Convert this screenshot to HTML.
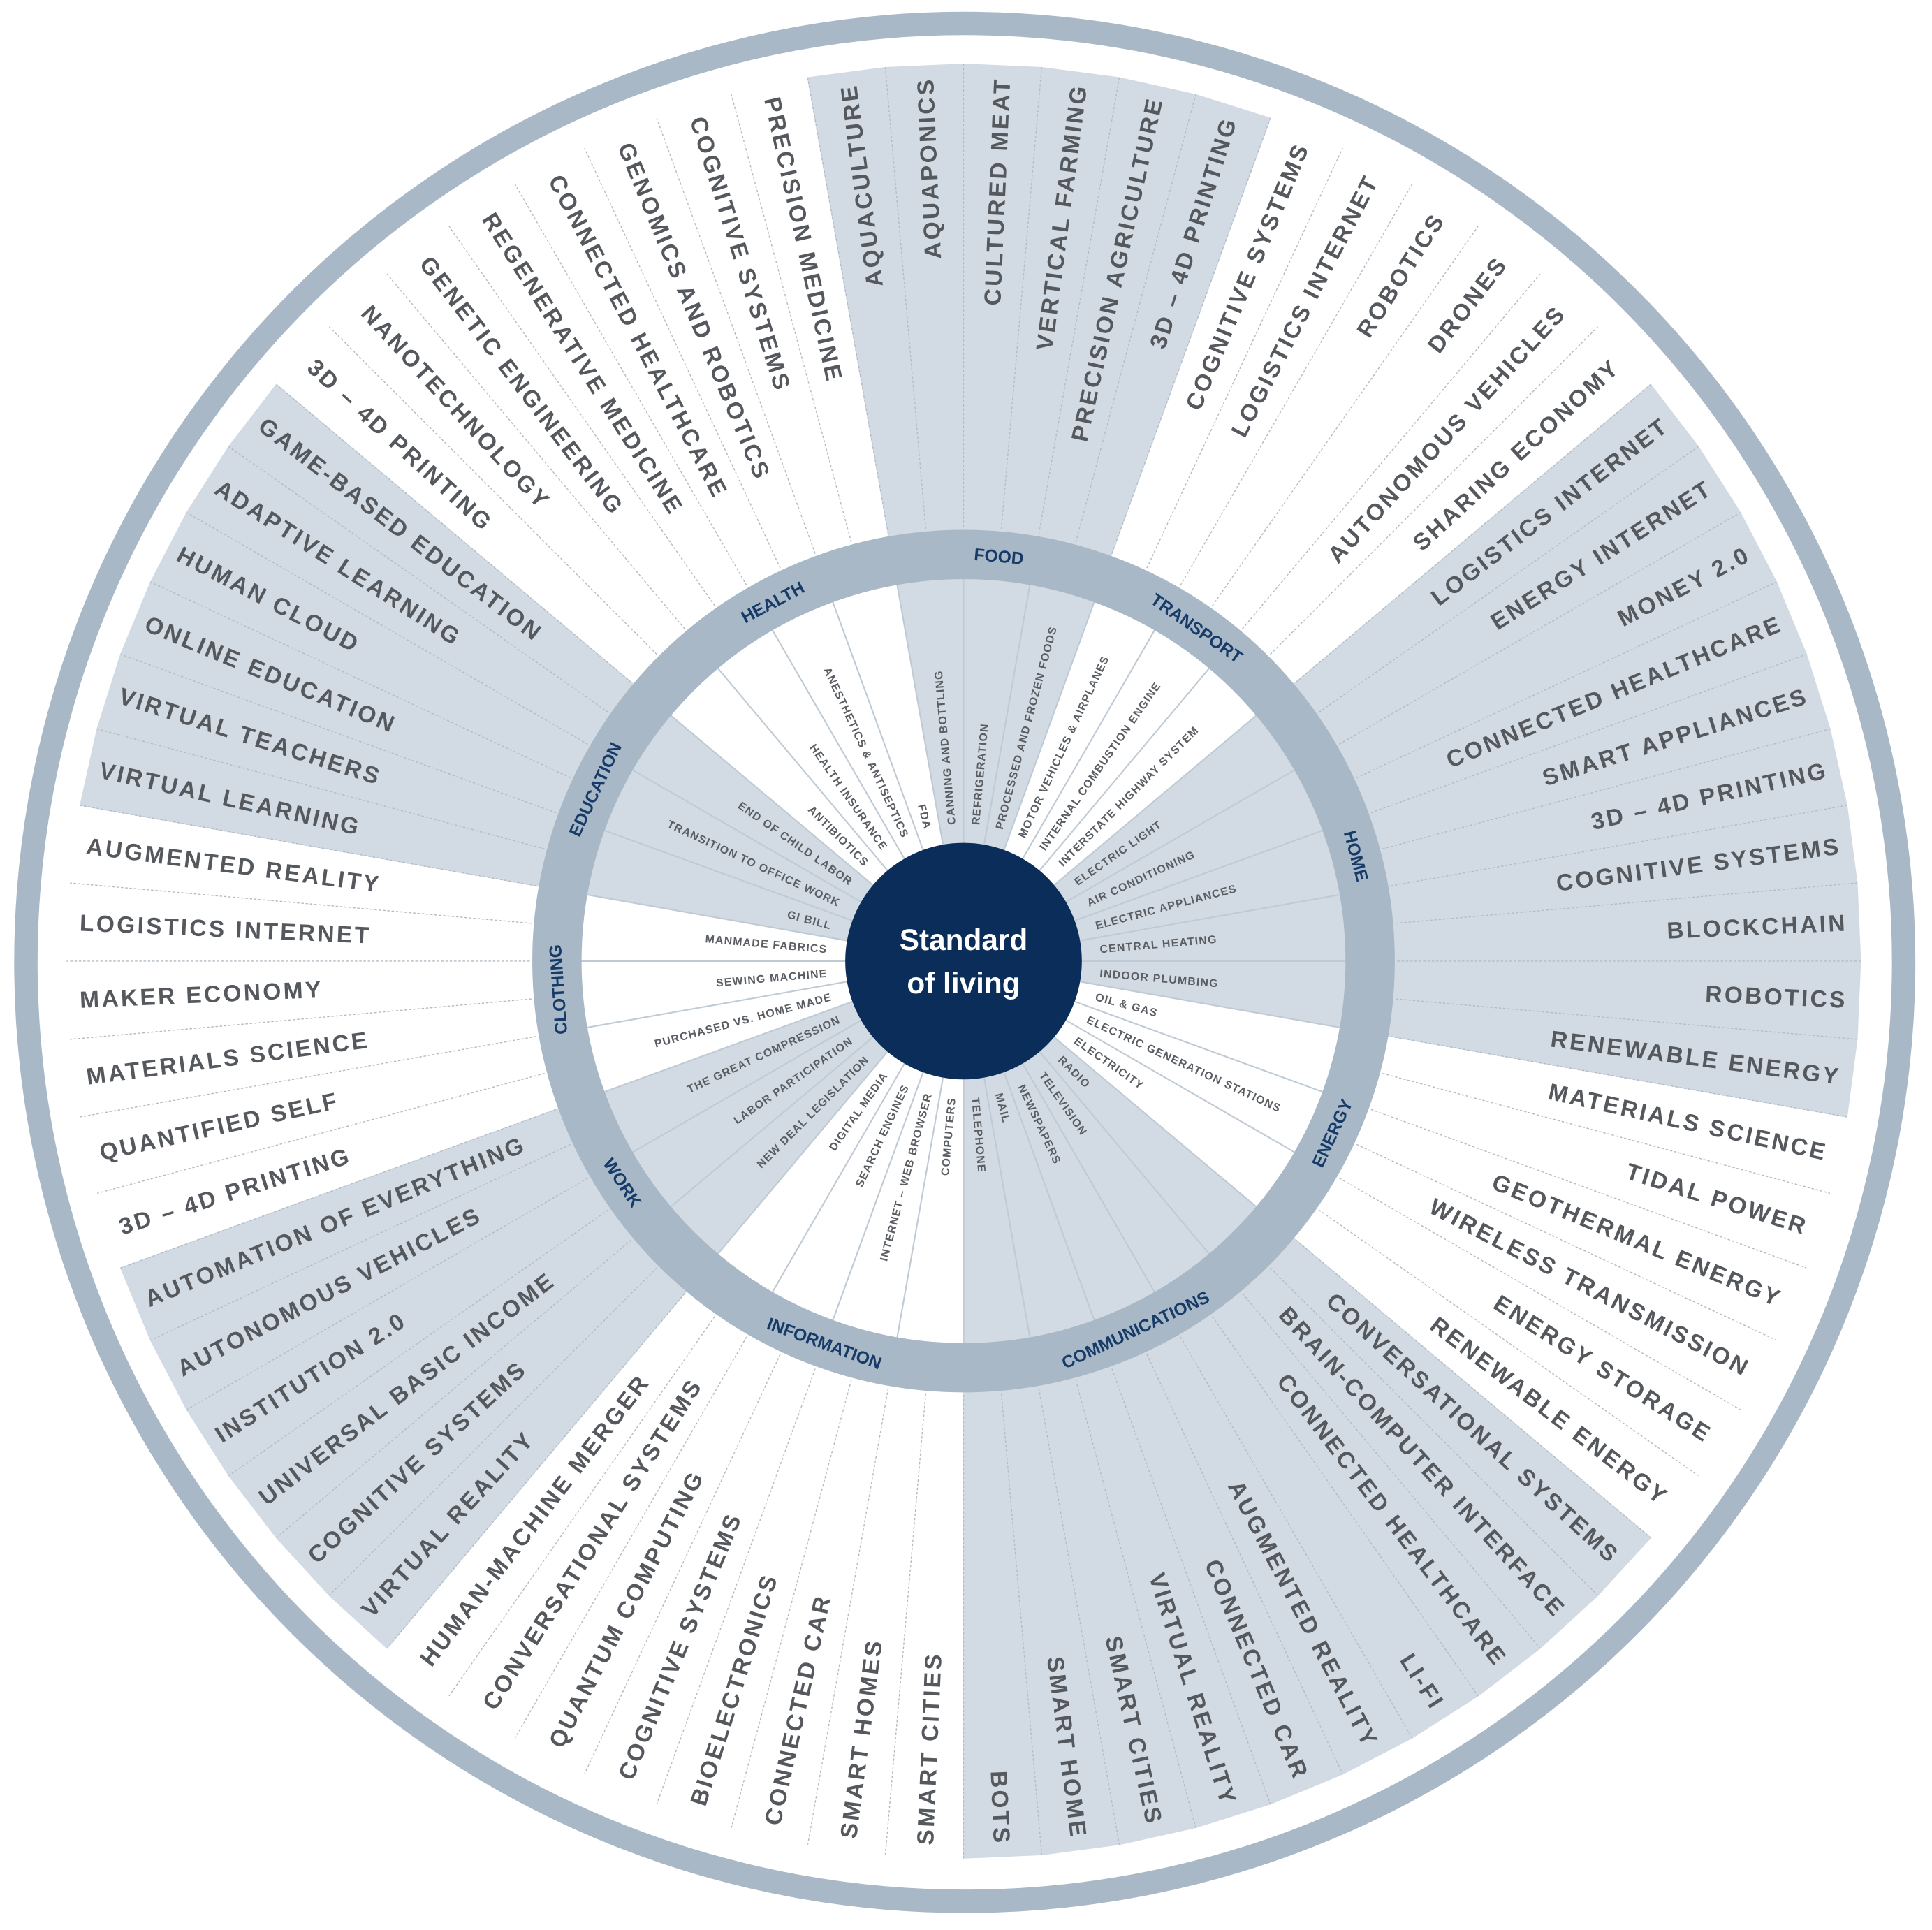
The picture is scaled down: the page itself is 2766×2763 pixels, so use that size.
<!DOCTYPE html>
<html><head><meta charset="utf-8"><style>
html,body{margin:0;padding:0;background:#fff}
svg{display:block}
.o{font-family:"Liberation Sans",sans-serif;font-weight:bold;font-size:19px;letter-spacing:1.9px;fill:#55595e}
.i{font-family:"Liberation Sans",sans-serif;font-weight:bold;font-size:9px;letter-spacing:0.7px;fill:#5a5e63}
.c{font-family:"Liberation Sans",sans-serif;font-weight:bold;font-size:14px;fill:#173b68;text-anchor:middle}
.sh{fill:#d2dbe3;stroke:#d2dbe3;stroke-width:0.8}
.ol{stroke:#b3bcc5;stroke-width:0.8;stroke-dasharray:2 1.5}
.il{stroke:#bfcad4;stroke-width:1.2}
</style></head><body>
<svg width="2766" height="2763" viewBox="0 0 1568 1566.3" preserveAspectRatio="none" xmlns="http://www.w3.org/2000/svg">
<rect x="0" y="0" width="1568" height="1567" fill="#fff"/>
<g>
<polygon class="sh" points="782,780 750.2,52.7 813.8,52.7" transform="rotate(-7.5 782 780)"/>
<polygon class="sh" points="782,780 750.2,52.7 813.8,52.7" transform="rotate(-2.5 782 780)"/>
<polygon class="sh" points="782,780 750.2,52.7 813.8,52.7" transform="rotate(2.5 782 780)"/>
<polygon class="sh" points="782,780 750.2,52.7 813.8,52.7" transform="rotate(7.5 782 780)"/>
<polygon class="sh" points="782,780 750.2,52.7 813.8,52.7" transform="rotate(12.5 782 780)"/>
<polygon class="sh" points="782,780 750.2,52.7 813.8,52.7" transform="rotate(17.5 782 780)"/>
<polygon class="sh" points="782,780 750.2,52.7 813.8,52.7" transform="rotate(52.5 782 780)"/>
<polygon class="sh" points="782,780 750.2,52.7 813.8,52.7" transform="rotate(57.5 782 780)"/>
<polygon class="sh" points="782,780 750.2,52.7 813.8,52.7" transform="rotate(62.5 782 780)"/>
<polygon class="sh" points="782,780 750.2,52.7 813.8,52.7" transform="rotate(67.5 782 780)"/>
<polygon class="sh" points="782,780 750.2,52.7 813.8,52.7" transform="rotate(72.5 782 780)"/>
<polygon class="sh" points="782,780 750.2,52.7 813.8,52.7" transform="rotate(77.5 782 780)"/>
<polygon class="sh" points="782,780 750.2,52.7 813.8,52.7" transform="rotate(82.5 782 780)"/>
<polygon class="sh" points="782,780 750.2,52.7 813.8,52.7" transform="rotate(87.5 782 780)"/>
<polygon class="sh" points="782,780 750.2,52.7 813.8,52.7" transform="rotate(92.5 782 780)"/>
<polygon class="sh" points="782,780 750.2,52.7 813.8,52.7" transform="rotate(97.5 782 780)"/>
<polygon class="sh" points="782,780 750.2,52.7 813.8,52.7" transform="rotate(132.5 782 780)"/>
<polygon class="sh" points="782,780 750.2,52.7 813.8,52.7" transform="rotate(137.5 782 780)"/>
<polygon class="sh" points="782,780 750.2,52.7 813.8,52.7" transform="rotate(142.5 782 780)"/>
<polygon class="sh" points="782,780 750.2,52.7 813.8,52.7" transform="rotate(147.5 782 780)"/>
<polygon class="sh" points="782,780 750.2,52.7 813.8,52.7" transform="rotate(152.5 782 780)"/>
<polygon class="sh" points="782,780 750.2,52.7 813.8,52.7" transform="rotate(157.5 782 780)"/>
<polygon class="sh" points="782,780 750.2,52.7 813.8,52.7" transform="rotate(162.5 782 780)"/>
<polygon class="sh" points="782,780 750.2,52.7 813.8,52.7" transform="rotate(167.5 782 780)"/>
<polygon class="sh" points="782,780 750.2,52.7 813.8,52.7" transform="rotate(172.5 782 780)"/>
<polygon class="sh" points="782,780 750.2,52.7 813.8,52.7" transform="rotate(177.5 782 780)"/>
<polygon class="sh" points="782,780 750.2,52.7 813.8,52.7" transform="rotate(222.5 782 780)"/>
<polygon class="sh" points="782,780 750.2,52.7 813.8,52.7" transform="rotate(227.5 782 780)"/>
<polygon class="sh" points="782,780 750.2,52.7 813.8,52.7" transform="rotate(232.5 782 780)"/>
<polygon class="sh" points="782,780 750.2,52.7 813.8,52.7" transform="rotate(237.5 782 780)"/>
<polygon class="sh" points="782,780 750.2,52.7 813.8,52.7" transform="rotate(242.5 782 780)"/>
<polygon class="sh" points="782,780 750.2,52.7 813.8,52.7" transform="rotate(247.5 782 780)"/>
<polygon class="sh" points="782,780 750.2,52.7 813.8,52.7" transform="rotate(282.5 782 780)"/>
<polygon class="sh" points="782,780 750.2,52.7 813.8,52.7" transform="rotate(287.5 782 780)"/>
<polygon class="sh" points="782,780 750.2,52.7 813.8,52.7" transform="rotate(292.5 782 780)"/>
<polygon class="sh" points="782,780 750.2,52.7 813.8,52.7" transform="rotate(297.5 782 780)"/>
<polygon class="sh" points="782,780 750.2,52.7 813.8,52.7" transform="rotate(302.5 782 780)"/>
<polygon class="sh" points="782,780 750.2,52.7 813.8,52.7" transform="rotate(307.5 782 780)"/>
</g>
<g class="ol">
<line x1="782" y1="428" x2="782" y2="52" transform="rotate(0 782 780)"/><line x1="782" y1="428" x2="782" y2="52" transform="rotate(5 782 780)"/><line x1="782" y1="428" x2="782" y2="52" transform="rotate(10 782 780)"/><line x1="782" y1="428" x2="782" y2="52" transform="rotate(15 782 780)"/><line x1="782" y1="428" x2="782" y2="52" transform="rotate(20 782 780)"/><line x1="782" y1="428" x2="782" y2="52" transform="rotate(25 782 780)"/><line x1="782" y1="428" x2="782" y2="52" transform="rotate(30 782 780)"/><line x1="782" y1="428" x2="782" y2="52" transform="rotate(35 782 780)"/><line x1="782" y1="428" x2="782" y2="52" transform="rotate(40 782 780)"/><line x1="782" y1="428" x2="782" y2="52" transform="rotate(45 782 780)"/><line x1="782" y1="428" x2="782" y2="52" transform="rotate(50 782 780)"/><line x1="782" y1="428" x2="782" y2="52" transform="rotate(55 782 780)"/><line x1="782" y1="428" x2="782" y2="52" transform="rotate(60 782 780)"/><line x1="782" y1="428" x2="782" y2="52" transform="rotate(65 782 780)"/><line x1="782" y1="428" x2="782" y2="52" transform="rotate(70 782 780)"/><line x1="782" y1="428" x2="782" y2="52" transform="rotate(75 782 780)"/><line x1="782" y1="428" x2="782" y2="52" transform="rotate(80 782 780)"/><line x1="782" y1="428" x2="782" y2="52" transform="rotate(85 782 780)"/><line x1="782" y1="428" x2="782" y2="52" transform="rotate(90 782 780)"/><line x1="782" y1="428" x2="782" y2="52" transform="rotate(95 782 780)"/><line x1="782" y1="428" x2="782" y2="52" transform="rotate(100 782 780)"/><line x1="782" y1="428" x2="782" y2="52" transform="rotate(105 782 780)"/><line x1="782" y1="428" x2="782" y2="52" transform="rotate(110 782 780)"/><line x1="782" y1="428" x2="782" y2="52" transform="rotate(115 782 780)"/><line x1="782" y1="428" x2="782" y2="52" transform="rotate(120 782 780)"/><line x1="782" y1="428" x2="782" y2="52" transform="rotate(125 782 780)"/><line x1="782" y1="428" x2="782" y2="52" transform="rotate(130 782 780)"/><line x1="782" y1="428" x2="782" y2="52" transform="rotate(135 782 780)"/><line x1="782" y1="428" x2="782" y2="52" transform="rotate(140 782 780)"/><line x1="782" y1="428" x2="782" y2="52" transform="rotate(145 782 780)"/><line x1="782" y1="428" x2="782" y2="52" transform="rotate(150 782 780)"/><line x1="782" y1="428" x2="782" y2="52" transform="rotate(155 782 780)"/><line x1="782" y1="428" x2="782" y2="52" transform="rotate(160 782 780)"/><line x1="782" y1="428" x2="782" y2="52" transform="rotate(165 782 780)"/><line x1="782" y1="428" x2="782" y2="52" transform="rotate(170 782 780)"/><line x1="782" y1="428" x2="782" y2="52" transform="rotate(175 782 780)"/><line x1="782" y1="428" x2="782" y2="52" transform="rotate(180 782 780)"/><line x1="782" y1="428" x2="782" y2="52" transform="rotate(185 782 780)"/><line x1="782" y1="428" x2="782" y2="52" transform="rotate(190 782 780)"/><line x1="782" y1="428" x2="782" y2="52" transform="rotate(195 782 780)"/><line x1="782" y1="428" x2="782" y2="52" transform="rotate(200 782 780)"/><line x1="782" y1="428" x2="782" y2="52" transform="rotate(205 782 780)"/><line x1="782" y1="428" x2="782" y2="52" transform="rotate(210 782 780)"/><line x1="782" y1="428" x2="782" y2="52" transform="rotate(215 782 780)"/><line x1="782" y1="428" x2="782" y2="52" transform="rotate(220 782 780)"/><line x1="782" y1="428" x2="782" y2="52" transform="rotate(225 782 780)"/><line x1="782" y1="428" x2="782" y2="52" transform="rotate(230 782 780)"/><line x1="782" y1="428" x2="782" y2="52" transform="rotate(235 782 780)"/><line x1="782" y1="428" x2="782" y2="52" transform="rotate(240 782 780)"/><line x1="782" y1="428" x2="782" y2="52" transform="rotate(245 782 780)"/><line x1="782" y1="428" x2="782" y2="52" transform="rotate(250 782 780)"/><line x1="782" y1="428" x2="782" y2="52" transform="rotate(255 782 780)"/><line x1="782" y1="428" x2="782" y2="52" transform="rotate(260 782 780)"/><line x1="782" y1="428" x2="782" y2="52" transform="rotate(265 782 780)"/><line x1="782" y1="428" x2="782" y2="52" transform="rotate(270 782 780)"/><line x1="782" y1="428" x2="782" y2="52" transform="rotate(275 782 780)"/><line x1="782" y1="428" x2="782" y2="52" transform="rotate(280 782 780)"/><line x1="782" y1="428" x2="782" y2="52" transform="rotate(285 782 780)"/><line x1="782" y1="428" x2="782" y2="52" transform="rotate(290 782 780)"/><line x1="782" y1="428" x2="782" y2="52" transform="rotate(295 782 780)"/><line x1="782" y1="428" x2="782" y2="52" transform="rotate(300 782 780)"/><line x1="782" y1="428" x2="782" y2="52" transform="rotate(305 782 780)"/><line x1="782" y1="428" x2="782" y2="52" transform="rotate(310 782 780)"/><line x1="782" y1="428" x2="782" y2="52" transform="rotate(315 782 780)"/><line x1="782" y1="428" x2="782" y2="52" transform="rotate(320 782 780)"/><line x1="782" y1="428" x2="782" y2="52" transform="rotate(325 782 780)"/><line x1="782" y1="428" x2="782" y2="52" transform="rotate(330 782 780)"/><line x1="782" y1="428" x2="782" y2="52" transform="rotate(335 782 780)"/><line x1="782" y1="428" x2="782" y2="52" transform="rotate(340 782 780)"/><line x1="782" y1="428" x2="782" y2="52" transform="rotate(345 782 780)"/><line x1="782" y1="428" x2="782" y2="52" transform="rotate(350 782 780)"/><line x1="782" y1="428" x2="782" y2="52" transform="rotate(355 782 780)"/>
</g>
<g class="il">
<line x1="782" y1="684" x2="782" y2="468" transform="rotate(0 782 780)"/><line x1="782" y1="684" x2="782" y2="468" transform="rotate(10 782 780)"/><line x1="782" y1="684" x2="782" y2="468" transform="rotate(20 782 780)"/><line x1="782" y1="684" x2="782" y2="468" transform="rotate(30 782 780)"/><line x1="782" y1="684" x2="782" y2="468" transform="rotate(40 782 780)"/><line x1="782" y1="684" x2="782" y2="468" transform="rotate(50 782 780)"/><line x1="782" y1="684" x2="782" y2="468" transform="rotate(60 782 780)"/><line x1="782" y1="684" x2="782" y2="468" transform="rotate(70 782 780)"/><line x1="782" y1="684" x2="782" y2="468" transform="rotate(80 782 780)"/><line x1="782" y1="684" x2="782" y2="468" transform="rotate(90 782 780)"/><line x1="782" y1="684" x2="782" y2="468" transform="rotate(100 782 780)"/><line x1="782" y1="684" x2="782" y2="468" transform="rotate(110 782 780)"/><line x1="782" y1="684" x2="782" y2="468" transform="rotate(120 782 780)"/><line x1="782" y1="684" x2="782" y2="468" transform="rotate(130 782 780)"/><line x1="782" y1="684" x2="782" y2="468" transform="rotate(140 782 780)"/><line x1="782" y1="684" x2="782" y2="468" transform="rotate(150 782 780)"/><line x1="782" y1="684" x2="782" y2="468" transform="rotate(160 782 780)"/><line x1="782" y1="684" x2="782" y2="468" transform="rotate(170 782 780)"/><line x1="782" y1="684" x2="782" y2="468" transform="rotate(180 782 780)"/><line x1="782" y1="684" x2="782" y2="468" transform="rotate(190 782 780)"/><line x1="782" y1="684" x2="782" y2="468" transform="rotate(200 782 780)"/><line x1="782" y1="684" x2="782" y2="468" transform="rotate(210 782 780)"/><line x1="782" y1="684" x2="782" y2="468" transform="rotate(220 782 780)"/><line x1="782" y1="684" x2="782" y2="468" transform="rotate(230 782 780)"/><line x1="782" y1="684" x2="782" y2="468" transform="rotate(240 782 780)"/><line x1="782" y1="684" x2="782" y2="468" transform="rotate(250 782 780)"/><line x1="782" y1="684" x2="782" y2="468" transform="rotate(260 782 780)"/><line x1="782" y1="684" x2="782" y2="468" transform="rotate(270 782 780)"/><line x1="782" y1="684" x2="782" y2="468" transform="rotate(280 782 780)"/><line x1="782" y1="684" x2="782" y2="468" transform="rotate(290 782 780)"/><line x1="782" y1="684" x2="782" y2="468" transform="rotate(300 782 780)"/><line x1="782" y1="684" x2="782" y2="468" transform="rotate(310 782 780)"/><line x1="782" y1="684" x2="782" y2="468" transform="rotate(320 782 780)"/><line x1="782" y1="684" x2="782" y2="468" transform="rotate(330 782 780)"/><line x1="782" y1="684" x2="782" y2="468" transform="rotate(340 782 780)"/><line x1="782" y1="684" x2="782" y2="468" transform="rotate(350 782 780)"/>
</g>
<circle cx="783" cy="781" r="762" fill="none" stroke="#a9b8c6" stroke-width="19"/>
<circle cx="782" cy="780" r="330" fill="none" stroke="#a8b8c6" stroke-width="40"/>
<circle cx="782" cy="780" r="96" fill="#0b2d59"/>
<text x="782" y="771" text-anchor="middle" font-family="Liberation Sans, sans-serif" font-weight="bold" font-size="24" fill="#fff">Standard</text>
<text x="782" y="806" text-anchor="middle" font-family="Liberation Sans, sans-serif" font-weight="bold" font-size="24" fill="#fff">of living</text>
<text class="c" x="782" y="455" transform="rotate(5 782 780)">FOOD</text>
<text class="c" x="782" y="455" transform="rotate(35 782 780)">TRANSPORT</text>
<text class="c" x="782" y="455" transform="rotate(75 782 780)">HOME</text>
<text class="c" x="782" y="1115" transform="rotate(-65 782 780)">ENERGY</text>
<text class="c" x="782" y="1115" transform="rotate(-25 782 780)">COMMUNICATIONS</text>
<text class="c" x="782" y="1115" transform="rotate(20 782 780)">INFORMATION</text>
<text class="c" x="782" y="1115" transform="rotate(57 782 780)">WORK</text>
<text class="c" x="782" y="455" transform="rotate(-94 782 780)">CLOTHING</text>
<text class="c" x="782" y="455" transform="rotate(-65 782 780)">EDUCATION</text>
<text class="c" x="782" y="455" transform="rotate(-28 782 780)">HEALTH</text>
<g class="o" text-anchor="end">
<text x="1500" y="780" dy="0.35em" transform="rotate(-97.5 782 780)">AQUACULTURE</text>
<text x="1500" y="780" dy="0.35em" transform="rotate(-92.5 782 780)">AQUAPONICS</text>
<text x="1500" y="780" dy="0.35em" transform="rotate(-87.5 782 780)">CULTURED MEAT</text>
<text x="1500" y="780" dy="0.35em" transform="rotate(-82.5 782 780)">VERTICAL FARMING</text>
<text x="1500" y="780" dy="0.35em" transform="rotate(-77.5 782 780)">PRECISION AGRICULTURE</text>
<text x="1500" y="780" dy="0.35em" transform="rotate(-72.5 782 780)">3D – 4D PRINTING</text>
<text x="1500" y="780" dy="0.35em" transform="rotate(-67.5 782 780)">COGNITIVE SYSTEMS</text>
<text x="1500" y="780" dy="0.35em" transform="rotate(-62.5 782 780)">LOGISTICS INTERNET</text>
<text x="1500" y="780" dy="0.35em" transform="rotate(-57.5 782 780)">ROBOTICS</text>
<text x="1500" y="780" dy="0.35em" transform="rotate(-52.5 782 780)">DRONES</text>
<text x="1500" y="780" dy="0.35em" transform="rotate(-47.5 782 780)">AUTONOMOUS VEHICLES</text>
<text x="1500" y="780" dy="0.35em" transform="rotate(-42.5 782 780)">SHARING ECONOMY</text>
<text x="1500" y="780" dy="0.35em" transform="rotate(-37.5 782 780)">LOGISTICS INTERNET</text>
<text x="1500" y="780" dy="0.35em" transform="rotate(-32.5 782 780)">ENERGY INTERNET</text>
<text x="1500" y="780" dy="0.35em" transform="rotate(-27.5 782 780)">MONEY 2.0</text>
<text x="1500" y="780" dy="0.35em" transform="rotate(-22.5 782 780)">CONNECTED HEALTHCARE</text>
<text x="1500" y="780" dy="0.35em" transform="rotate(-17.5 782 780)">SMART APPLIANCES</text>
<text x="1500" y="780" dy="0.35em" transform="rotate(-12.5 782 780)">3D – 4D PRINTING</text>
<text x="1500" y="780" dy="0.35em" transform="rotate(-7.5 782 780)">COGNITIVE SYSTEMS</text>
<text x="1500" y="780" dy="0.35em" transform="rotate(-2.5 782 780)">BLOCKCHAIN</text>
<text x="1500" y="780" dy="0.35em" transform="rotate(2.5 782 780)">ROBOTICS</text>
<text x="1500" y="780" dy="0.35em" transform="rotate(7.5 782 780)">RENEWABLE ENERGY</text>
<text x="1500" y="780" dy="0.35em" transform="rotate(12.5 782 780)">MATERIALS SCIENCE</text>
<text x="1500" y="780" dy="0.35em" transform="rotate(17.5 782 780)">TIDAL POWER</text>
<text x="1500" y="780" dy="0.35em" transform="rotate(22.5 782 780)">GEOTHERMAL ENERGY</text>
<text x="1500" y="780" dy="0.35em" transform="rotate(27.5 782 780)">WIRELESS TRANSMISSION</text>
<text x="1500" y="780" dy="0.35em" transform="rotate(32.5 782 780)">ENERGY STORAGE</text>
<text x="1500" y="780" dy="0.35em" transform="rotate(37.5 782 780)">RENEWABLE ENERGY</text>
<text x="1500" y="780" dy="0.35em" transform="rotate(42.5 782 780)">CONVERSATIONAL SYSTEMS</text>
<text x="1500" y="780" dy="0.35em" transform="rotate(47.5 782 780)">BRAIN-COMPUTER INTERFACE</text>
<text x="1500" y="780" dy="0.35em" transform="rotate(52.5 782 780)">CONNECTED HEALTHCARE</text>
<text x="1500" y="780" dy="0.35em" transform="rotate(57.5 782 780)">LI-FI</text>
<text x="1500" y="780" dy="0.35em" transform="rotate(62.5 782 780)">AUGMENTED REALITY</text>
<text x="1500" y="780" dy="0.35em" transform="rotate(67.5 782 780)">CONNECTED CAR</text>
<text x="1500" y="780" dy="0.35em" transform="rotate(72.5 782 780)">VIRTUAL REALITY</text>
<text x="1500" y="780" dy="0.35em" transform="rotate(77.5 782 780)">SMART CITIES</text>
<text x="1500" y="780" dy="0.35em" transform="rotate(82.5 782 780)">SMART HOME</text>
<text x="1500" y="780" dy="0.35em" transform="rotate(87.5 782 780)">BOTS</text>
</g>
<g class="o" text-anchor="start">
<text x="64" y="780" dy="0.35em" transform="rotate(272.5 782 780)">SMART CITIES</text>
<text x="64" y="780" dy="0.35em" transform="rotate(277.5 782 780)">SMART HOMES</text>
<text x="64" y="780" dy="0.35em" transform="rotate(282.5 782 780)">CONNECTED CAR</text>
<text x="64" y="780" dy="0.35em" transform="rotate(287.5 782 780)">BIOELECTRONICS</text>
<text x="64" y="780" dy="0.35em" transform="rotate(292.5 782 780)">COGNITIVE SYSTEMS</text>
<text x="64" y="780" dy="0.35em" transform="rotate(297.5 782 780)">QUANTUM COMPUTING</text>
<text x="64" y="780" dy="0.35em" transform="rotate(302.5 782 780)">CONVERSATIONAL SYSTEMS</text>
<text x="64" y="780" dy="0.35em" transform="rotate(307.5 782 780)">HUMAN-MACHINE MERGER</text>
<text x="64" y="780" dy="0.35em" transform="rotate(312.5 782 780)">VIRTUAL REALITY</text>
<text x="64" y="780" dy="0.35em" transform="rotate(317.5 782 780)">COGNITIVE SYSTEMS</text>
<text x="64" y="780" dy="0.35em" transform="rotate(322.5 782 780)">UNIVERSAL BASIC INCOME</text>
<text x="64" y="780" dy="0.35em" transform="rotate(327.5 782 780)">INSTITUTION 2.0</text>
<text x="64" y="780" dy="0.35em" transform="rotate(332.5 782 780)">AUTONOMOUS VEHICLES</text>
<text x="64" y="780" dy="0.35em" transform="rotate(337.5 782 780)">AUTOMATION OF EVERYTHING</text>
<text x="64" y="780" dy="0.35em" transform="rotate(342.5 782 780)">3D – 4D PRINTING</text>
<text x="64" y="780" dy="0.35em" transform="rotate(347.5 782 780)">QUANTIFIED SELF</text>
<text x="64" y="780" dy="0.35em" transform="rotate(352.5 782 780)">MATERIALS SCIENCE</text>
<text x="64" y="780" dy="0.35em" transform="rotate(357.5 782 780)">MAKER ECONOMY</text>
<text x="64" y="780" dy="0.35em" transform="rotate(362.5 782 780)">LOGISTICS INTERNET</text>
<text x="64" y="780" dy="0.35em" transform="rotate(367.5 782 780)">AUGMENTED REALITY</text>
<text x="64" y="780" dy="0.35em" transform="rotate(372.5 782 780)">VIRTUAL LEARNING</text>
<text x="64" y="780" dy="0.35em" transform="rotate(377.5 782 780)">VIRTUAL TEACHERS</text>
<text x="64" y="780" dy="0.35em" transform="rotate(382.5 782 780)">ONLINE EDUCATION</text>
<text x="64" y="780" dy="0.35em" transform="rotate(387.5 782 780)">HUMAN CLOUD</text>
<text x="64" y="780" dy="0.35em" transform="rotate(392.5 782 780)">ADAPTIVE LEARNING</text>
<text x="64" y="780" dy="0.35em" transform="rotate(397.5 782 780)">GAME-BASED EDUCATION</text>
<text x="64" y="780" dy="0.35em" transform="rotate(402.5 782 780)">3D – 4D PRINTING</text>
<text x="64" y="780" dy="0.35em" transform="rotate(407.5 782 780)">NANOTECHNOLOGY</text>
<text x="64" y="780" dy="0.35em" transform="rotate(412.5 782 780)">GENETIC ENGINEERING</text>
<text x="64" y="780" dy="0.35em" transform="rotate(417.5 782 780)">REGENERATIVE MEDICINE</text>
<text x="64" y="780" dy="0.35em" transform="rotate(422.5 782 780)">CONNECTED HEALTHCARE</text>
<text x="64" y="780" dy="0.35em" transform="rotate(427.5 782 780)">GENOMICS AND ROBOTICS</text>
<text x="64" y="780" dy="0.35em" transform="rotate(432.5 782 780)">COGNITIVE SYSTEMS</text>
<text x="64" y="780" dy="0.35em" transform="rotate(437.5 782 780)">PRECISION MEDICINE</text>
</g>
<g class="i" text-anchor="start">
<text x="893" y="780" dy="0.35em" transform="rotate(-95 782 780)">CANNING AND BOTTLING</text>
<text x="893" y="780" dy="0.35em" transform="rotate(-85 782 780)">REFRIGERATION</text>
<text x="893" y="780" dy="0.35em" transform="rotate(-75 782 780)">PROCESSED AND FROZEN FOODS</text>
<text x="893" y="780" dy="0.35em" transform="rotate(-65 782 780)">MOTOR VEHICLES &amp; AIRPLANES</text>
<text x="893" y="780" dy="0.35em" transform="rotate(-55 782 780)">INTERNAL COMBUSTION ENGINE</text>
<text x="893" y="780" dy="0.35em" transform="rotate(-45 782 780)">INTERSTATE HIGHWAY SYSTEM</text>
<text x="893" y="780" dy="0.35em" transform="rotate(-35 782 780)">ELECTRIC LIGHT</text>
<text x="893" y="780" dy="0.35em" transform="rotate(-25 782 780)">AIR CONDITIONING</text>
<text x="893" y="780" dy="0.35em" transform="rotate(-15 782 780)">ELECTRIC APPLIANCES</text>
<text x="893" y="780" dy="0.35em" transform="rotate(-5 782 780)">CENTRAL HEATING</text>
<text x="893" y="780" dy="0.35em" transform="rotate(5 782 780)">INDOOR PLUMBING</text>
<text x="893" y="780" dy="0.35em" transform="rotate(15 782 780)">OIL &amp; GAS</text>
<text x="893" y="780" dy="0.35em" transform="rotate(25 782 780)">ELECTRIC GENERATION STATIONS</text>
<text x="893" y="780" dy="0.35em" transform="rotate(35 782 780)">ELECTRICITY</text>
<text x="893" y="780" dy="0.35em" transform="rotate(45 782 780)">RADIO</text>
<text x="893" y="780" dy="0.35em" transform="rotate(55 782 780)">TELEVISION</text>
<text x="893" y="780" dy="0.35em" transform="rotate(65 782 780)">NEWSPAPERS</text>
<text x="893" y="780" dy="0.35em" transform="rotate(75 782 780)">MAIL</text>
<text x="893" y="780" dy="0.35em" transform="rotate(85 782 780)">TELEPHONE</text>
</g>
<g class="i" text-anchor="end">
<text x="671" y="780" dy="0.35em" transform="rotate(275 782 780)">COMPUTERS</text>
<text x="671" y="780" dy="0.35em" transform="rotate(285 782 780)">INTERNET – WEB BROWSER</text>
<text x="671" y="780" dy="0.35em" transform="rotate(295 782 780)">SEARCH ENGINES</text>
<text x="671" y="780" dy="0.35em" transform="rotate(305 782 780)">DIGITAL MEDIA</text>
<text x="671" y="780" dy="0.35em" transform="rotate(315 782 780)">NEW DEAL LEGISLATION</text>
<text x="671" y="780" dy="0.35em" transform="rotate(325 782 780)">LABOR PARTICIPATION</text>
<text x="671" y="780" dy="0.35em" transform="rotate(335 782 780)">THE GREAT COMPRESSION</text>
<text x="671" y="780" dy="0.35em" transform="rotate(345 782 780)">PURCHASED VS. HOME MADE</text>
<text x="671" y="780" dy="0.35em" transform="rotate(355 782 780)">SEWING MACHINE</text>
<text x="671" y="780" dy="0.35em" transform="rotate(365 782 780)">MANMADE FABRICS</text>
<text x="671" y="780" dy="0.35em" transform="rotate(375 782 780)">GI BILL</text>
<text x="671" y="780" dy="0.35em" transform="rotate(385 782 780)">TRANSITION TO OFFICE WORK</text>
<text x="671" y="780" dy="0.35em" transform="rotate(395 782 780)">END OF CHILD LABOR</text>
<text x="671" y="780" dy="0.35em" transform="rotate(405 782 780)">ANTIBIOTICS</text>
<text x="671" y="780" dy="0.35em" transform="rotate(415 782 780)">HEALTH INSURANCE</text>
<text x="671" y="780" dy="0.35em" transform="rotate(425 782 780)">ANESTHETICS &amp; ANTISEPTICS</text>
<text x="671" y="780" dy="0.35em" transform="rotate(435 782 780)">FDA</text>
</g>
</svg>
</body></html>
